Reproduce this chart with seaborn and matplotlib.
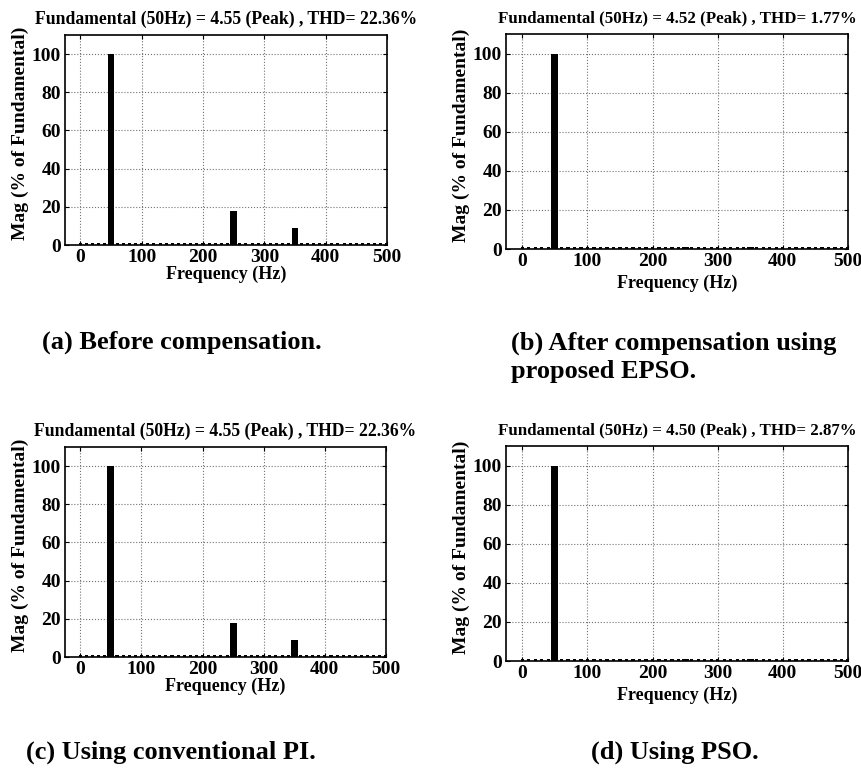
import pandas as pd
import seaborn as sns
import matplotlib.pyplot as plt

# spectrum bins (Hz) and the visible harmonic peaks (% of fundamental)
freqs = list(range(0, 501, 10))
peaks_a = {50: 100, 250: 18, 350: 9}
peaks_b = {50: 100, 250: 1.2, 350: 1.1}
peaks_c = {50: 100, 250: 18, 350: 9}
peaks_d = {50: 100, 250: 1.2, 350: 1.1}
floor_a = 1.0
floor_b = 0.8
floor_c = 1.0
floor_d = 0.8

titles = [
    'Fundamental (50Hz) = 4.55 (Peak) , THD= 22.36%',
    'Fundamental (50Hz) = 4.52 (Peak) , THD= 1.77%',
    'Fundamental (50Hz) = 4.55 (Peak) , THD= 22.36%',
    'Fundamental (50Hz) = 4.50 (Peak) , THD= 2.87%',
]
captions = [
    '(a) Before compensation.',
    '(b) After compensation using\nproposed EPSO.',
    '(c) Using conventional PI.',
    '(d) Using PSO.',
]
xticks = [0, 100, 200, 300, 400, 500]
yticks = [0, 20, 40, 60, 80, 100]

sns.set_style('ticks')
plt.rcParams['font.family'] = ['Liberation Serif', 'DejaVu Serif']
plt.rcParams['font.weight'] = 'bold'
plt.rcParams['text.color'] = 'black'
plt.rcParams['axes.labelcolor'] = 'black'
plt.rcParams['xtick.color'] = 'black'
plt.rcParams['ytick.color'] = 'black'

fig = plt.figure(figsize=(8.62, 7.69), dpi=100)
W, H = 862, 769

# axes boxes in pixels: left, top, right, bottom
boxes = [(65, 35, 387, 245), (506, 34, 848, 249),
         (65, 447, 386, 657), (506, 446, 848, 661)]
panels = [(peaks_a, floor_a), (peaks_b, floor_b),
          (peaks_c, floor_c), (peaks_d, floor_d)]
title_sizes = [12.7, 12.2, 12.7, 12.2]

for i, ((l, t, r, b), (peaks, floor)) in enumerate(zip(boxes, panels)):
    ax = fig.add_axes([l / W, 1 - b / H, (r - l) / W, (b - t) / H])
    ax.grid(True, linestyle=':', color='0.45', linewidth=0.8)
    ax.set_axisbelow(True)
    # low-level bins (the dashed floor)
    df_floor = pd.DataFrame({'freq': [f for f in freqs if f not in peaks],
                             'mag': floor})
    sns.barplot(data=df_floor, x='freq', y='mag', native_scale=True, color='black',
                saturation=1, width=0.5, ax=ax, linewidth=0)
    # harmonic peaks
    df_peak = pd.DataFrame({'freq': list(peaks.keys()), 'mag': list(peaks.values())})
    sns.barplot(data=df_peak, x='freq', y='mag', native_scale=True, color='black',
                saturation=1, width=0.11, ax=ax, linewidth=0)
    ax.set_xlim(-25, 500)
    ax.set_ylim(0, 110)
    ax.set_xticks(xticks)
    ax.set_yticks(yticks)
    ax.set_xticklabels([str(v) for v in xticks])
    ax.set_yticklabels([str(v) for v in yticks])
    ax.tick_params(direction='in', top=True, right=True, length=3,
                   labelsize=14, pad=3, colors='black')
    for lab in ax.get_xticklabels() + ax.get_yticklabels():
        lab.set_fontweight('bold')
    for sp in ax.spines.values():
        sp.set_visible(True)
        sp.set_linewidth(1.2)
        sp.set_color('black')
    ax.set_xlabel('Frequency (Hz)', fontsize=13, fontweight='bold',
                  labelpad=0 if i % 2 == 0 else 3)
    ax.set_ylabel('Mag (% of Fundamental)', fontsize=14, fontweight='bold', labelpad=2)
    ax.yaxis.label.set_y(0.53)
    ax.set_title(titles[i], fontsize=title_sizes[i], fontweight='bold', pad=8)

# captions under each panel
fig.text(42 / W, 1 - 342 / H, captions[0], fontsize=19, fontweight='bold', va='center')
fig.text(511 / W, 1 - 357 / H, captions[1], fontsize=19, fontweight='bold',
         va='center', linespacing=1.3)
fig.text(26 / W, 1 - 752 / H, captions[2], fontsize=19, fontweight='bold', va='center')
fig.text(591 / W, 1 - 752 / H, captions[3], fontsize=19, fontweight='bold', va='center')

fig.savefig('out.png', dpi=100)
